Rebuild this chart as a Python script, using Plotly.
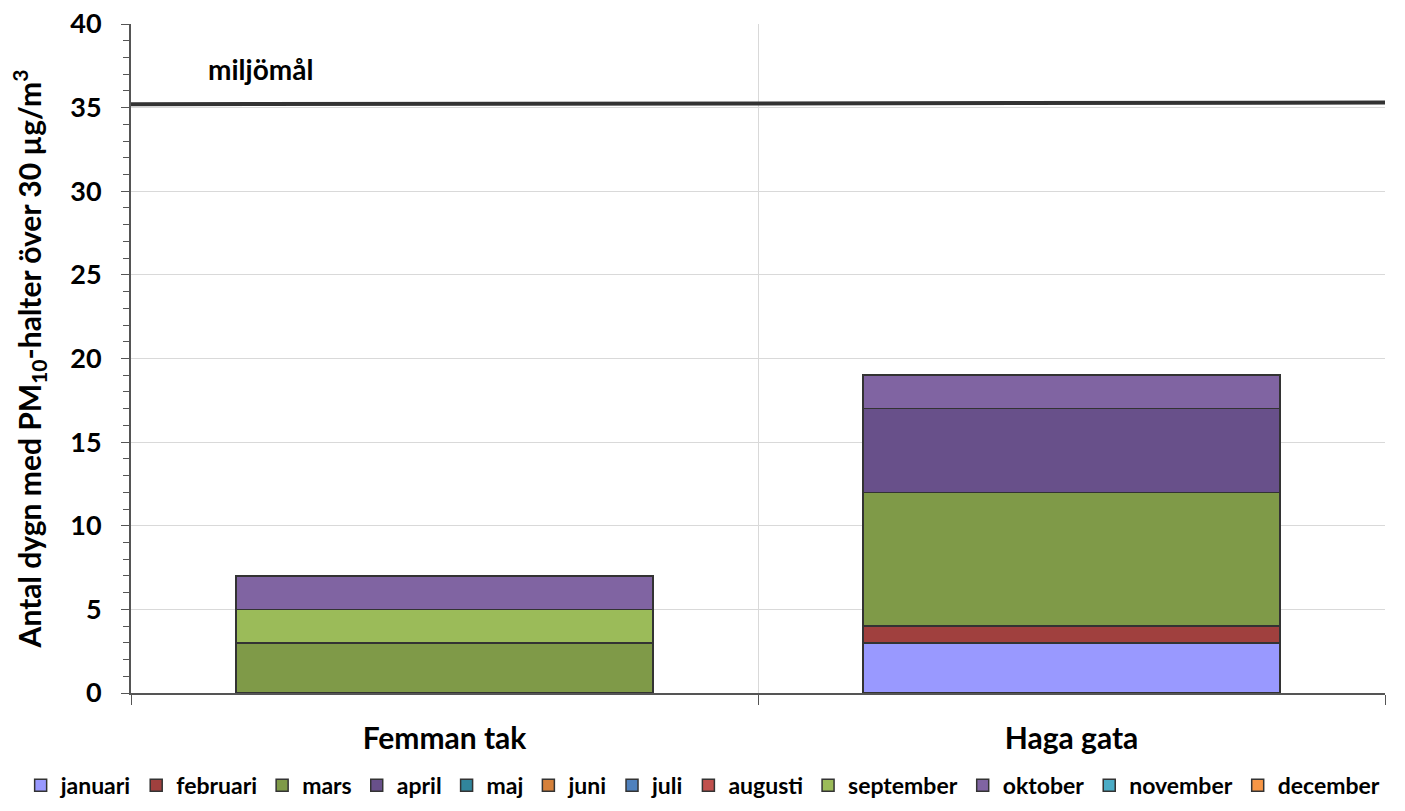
import plotly.graph_objects as go

categories = ["Femman tak", "Haga gata"]
months = ["januari", "februari", "mars", "april", "maj", "juni", "juli",
          "augusti", "september", "oktober", "november", "december"]
values = {
    "januari":   [0, 3],
    "februari":  [0, 1],
    "mars":      [3, 8],
    "april":     [0, 5],
    "maj":       [0, 0],
    "juni":      [0, 0],
    "juli":      [0, 0],
    "augusti":   [0, 0],
    "september": [2, 0],
    "oktober":   [2, 2],
    "november":  [0, 0],
    "december":  [0, 0],
}
colors = ["#9999FF", "#A0403E", "#7F9A48", "#68508A", "#31859C", "#D5803A",
          "#4F81BD", "#C0504D", "#9BBB59", "#8064A2", "#4BACC6", "#F79646"]
miljomal_x = [0, 1]
miljomal_y = [35.2, 35.3]
y_ticks = [0, 5, 10, 15, 20, 25, 30, 35, 40]

FONT = "Lato, 'Open Sans', sans-serif"

fig = go.Figure()
for m, c in zip(months, colors):
    fig.add_trace(go.Bar(
        name=m, x=categories, y=values[m], marker_color=c,
        marker_line_color="#333333", marker_line_width=1.5,
        width=0.665,
    ))

fig.add_trace(go.Scatter(
    x=miljomal_x, y=miljomal_y, xaxis="x2", mode="lines",
    line=dict(color="#333333", width=4), showlegend=False, hoverinfo="skip",
))

fig.add_annotation(x=0.103, y=37.3, xref="x2", yref="y", text="<b>miljömål</b>",
                   showarrow=False, font=dict(size=28, color="black", family=FONT))

fig.update_layout(
    barmode="stack",
    width=1405, height=811,
    margin=dict(l=131, r=20, t=24, b=118, autoexpand=False),
    plot_bgcolor="white", paper_bgcolor="white",
    font=dict(family=FONT, color="black"),
    showlegend=True,
    legend=dict(orientation="h", x=-0.088, xanchor="left", y=-0.138, yanchor="middle",
                font=dict(size=23, family=FONT, color="black", weight=700),
                traceorder="normal", itemwidth=30, tracegroupgap=0),
    xaxis=dict(
        type="category", range=[-0.5, 1.5], tickson="boundaries", automargin=False,
        ticks="outside", ticklen=10, tickcolor="#555555",
        showline=True, linecolor="#555555", linewidth=2,
        showgrid=True, gridcolor="#D9D9D9", gridwidth=1,
        ticklabelstandoff=18,
        tickfont=dict(size=30, family=FONT, color="black", weight=700),
    ),
    xaxis2=dict(overlaying="x", range=[0, 1], visible=False),
    yaxis=dict(
        range=[0, 40], tickvals=y_ticks, ticks="outside", ticklen=8, automargin=False,
        tickcolor="#555555", showline=True, linecolor="#555555", linewidth=2,
        showgrid=True, gridcolor="#D9D9D9", gridwidth=1, zeroline=False,
        minor=dict(dtick=1, ticks="outside", ticklen=6, tickcolor="#555555", showgrid=False),
        tickfont=dict(size=27, family=FONT, color="black", weight=700),
        ticklabelstandoff=14,
        title=dict(text="<b>Antal dygn med PM<sub>10</sub>-halter över 30 µg/m<sup>3</sup></b>",
                   font=dict(size=30, family=FONT, color="black"), standoff=20),
    ),
)

fig.write_html("out.html", config={"displayModeBar": False},
               post_script="document.body.style.margin='0';")
